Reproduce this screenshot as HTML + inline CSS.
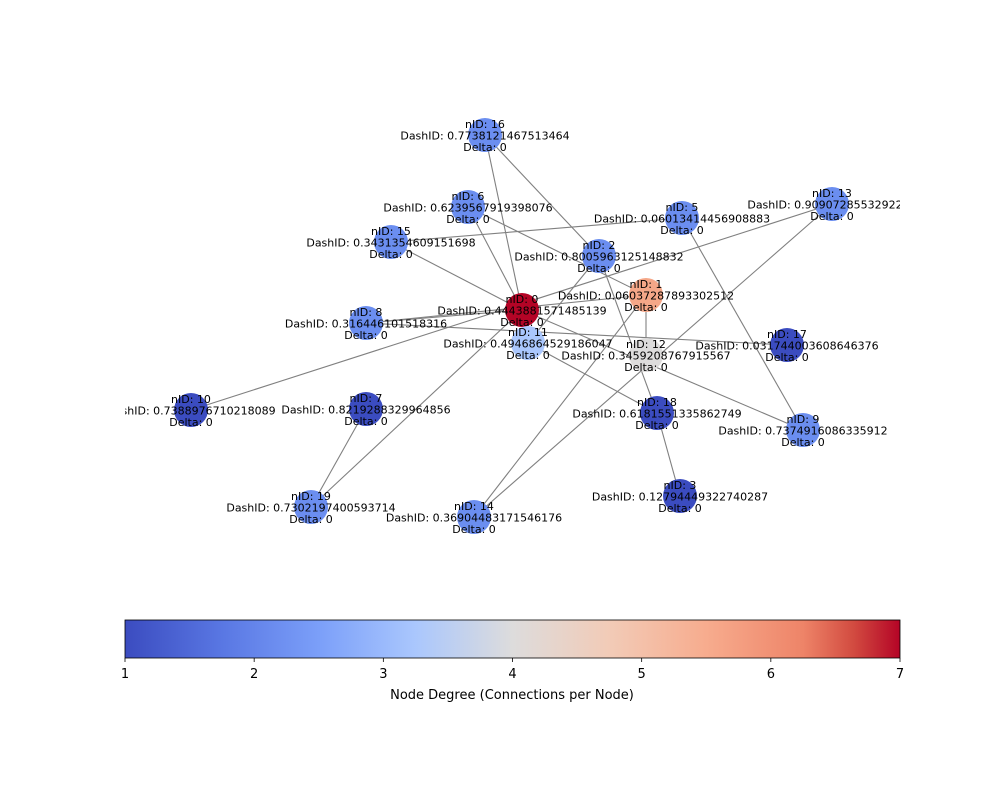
<!DOCTYPE html>
<html><head><meta charset="utf-8">
<style>
html,body{margin:0;padding:0;background:#fff;}
svg{display:block;font-family:"DejaVu Sans","Liberation Sans",sans-serif;}
</style></head>
<body>
<svg id="chart" width="1000" height="800" viewBox="0 0 1000 800">
  <defs>
    <clipPath id="axclip"><rect x="125" y="80" width="775" height="520"/></clipPath>
    <linearGradient id="cw" x1="0" x2="1" y1="0" y2="0">
      <stop offset="0" stop-color="#3b4cc0"/>
      <stop offset="0.125" stop-color="#5977e3"/>
      <stop offset="0.25" stop-color="#7b9ff9"/>
      <stop offset="0.375" stop-color="#aac7fd"/>
      <stop offset="0.5" stop-color="#dddcdc"/>
      <stop offset="0.625" stop-color="#f2cbb7"/>
      <stop offset="0.75" stop-color="#f7ac8e"/>
      <stop offset="0.875" stop-color="#ee8468"/>
      <stop offset="0.94" stop-color="#d24b40"/>
      <stop offset="1" stop-color="#b40426"/>
    </linearGradient>
  </defs>
  <g id="edges"></g>
  <g id="nodes"></g>
  <g id="labels" clip-path="url(#axclip)"></g>
  <g>
    <rect x="125" y="620" width="775" height="38" fill="url(#cw)"/>
    <rect x="125" y="620" width="775" height="38" fill="none" stroke="#000" stroke-width="0.8"/>
    <g id="cbticks"></g>
    <text x="512" y="699" font-size="13" text-anchor="middle">Node Degree (Connections per Node)</text>
  </g>
</svg>
<script>
const nodeIds = [0,1,2,3,5,6,7,8,9,10,11,12,13,14,15,16,17,18,19];
const nodeX = [522,646,599,680,682,468,366,366,803,191,528,646,832,474,391,485,787,657,311];
const nodeY = [310,295,256,496,218,207,409,323,430,410,343,355,204,517,242,135,345,413,507];
const nodeColors = ["#b40426","#f5a788","#6b8ef0","#3b4cc0","#6b8ef0","#6b8ef0","#3b4cc0","#6b8ef0","#6b8ef0","#3b4cc0","#aac7fd","#dddcdc","#6b8ef0","#6b8ef0","#6b8ef0","#6b8ef0","#3b4cc0","#3b4cc0","#6b8ef0"];
const dashIds = ["0.4443881571485139","0.06037287893302512","0.8005963125148832","0.12794449322740287","0.06013414456908883","0.6239567919398076","0.8219288329964856","0.316446101518316","0.7374916086335912","0.7388976710218089","0.4946864529186047","0.3459208767915567","0.9090728553292292","0.36904483171546176","0.3431354609151698","0.7738121467513464","0.031744003608646376","0.6181551335862749","0.7302197400593714"];
const edgeFrom = [0,0,0,0,0,0,0,10,8,8,6,16,2,2,15,5,1,1,14,7,18,11];
const edgeTo   = [16,6,15,8,19,9,11,13,1,17,1,2,18,11,5,9,12,14,13,19,3,18];
const cbTicks = [1,2,3,4,5,6,7];

const NS = "http://www.w3.org/2000/svg";
const cbX = v => 125 + (v - 1) / 6 * 775;
function pos(id){ const i = nodeIds.indexOf(id); return [nodeX[i], nodeY[i]]; }

const eg = document.getElementById('edges');
for (let k = 0; k < edgeFrom.length; k++) {
  const a = pos(edgeFrom[k]), b = pos(edgeTo[k]);
  const l = document.createElementNS(NS, 'line');
  l.setAttribute('x1', a[0]); l.setAttribute('y1', a[1]);
  l.setAttribute('x2', b[0]); l.setAttribute('y2', b[1]);
  l.setAttribute('stroke', '#808080'); l.setAttribute('stroke-width', '1.1');
  
  
  eg.appendChild(l);
}
const ng = document.getElementById('nodes');
const lg = document.getElementById('labels');
for (let i = 0; i < nodeIds.length; i++) {
  const c = document.createElementNS(NS, 'circle');
  c.setAttribute('cx', nodeX[i]); c.setAttribute('cy', nodeY[i]); c.setAttribute('r', 17);
  c.setAttribute('fill', nodeColors[i]);
  
  
  ng.appendChild(c);
  const lines = ['nID: ' + nodeIds[i], 'DashID: ' + dashIds[i], 'Delta: 0'];
  lines.forEach((s, j) => {
    const t = document.createElementNS(NS, 'text');
    t.setAttribute('x', nodeX[i]); t.setAttribute('y', nodeY[i] - 7 + j * 11.5);
    t.setAttribute('font-size', '11'); t.setAttribute('text-anchor', 'middle');
    t.textContent = s;
    
    
    lg.appendChild(t);
  });
}
const tg = document.getElementById('cbticks');
cbTicks.forEach(v => {
  const l = document.createElementNS(NS, 'line');
  l.setAttribute('x1', cbX(v)); l.setAttribute('x2', cbX(v));
  l.setAttribute('y1', 658); l.setAttribute('y2', 662);
  l.setAttribute('stroke', '#000'); l.setAttribute('stroke-width', '0.8');
  
  
  tg.appendChild(l);
  const t = document.createElementNS(NS, 'text');
  t.setAttribute('x', cbX(v)); t.setAttribute('y', 678);
  t.setAttribute('font-size', '13'); t.setAttribute('text-anchor', 'middle');
  t.textContent = v;
  
  
  tg.appendChild(t);
});
</script>
</body></html>
